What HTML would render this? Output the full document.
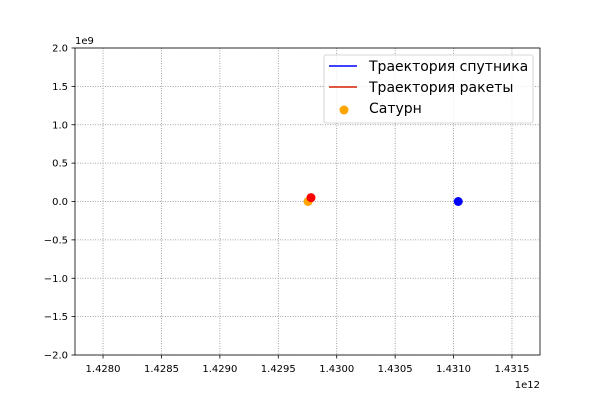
<!DOCTYPE html>
<html><head><meta charset="utf-8"><style>
body{margin:0;background:#fff;}
svg{display:block;font-family:"DejaVu Sans","Liberation Sans",sans-serif;}
</style></head><body>
<svg id="c" width="600" height="400"></svg>
<script>
const xTicks=[1.4280,1.4285,1.4290,1.4295,1.4300,1.4305,1.4310,1.4315];
const xTickLabels=["1.4280","1.4285","1.4290","1.4295","1.4300","1.4305","1.4310","1.4315"];
const yTicks=[-2.0,-1.5,-1.0,-0.5,0.0,0.5,1.0,1.5,2.0];
const yTickLabels=["−2.0","−1.5","−1.0","−0.5","0.0","0.5","1.0","1.5","2.0"];
const satelliteX=[1.43104];const satelliteY=[0.0];
const rocketX=[1.42978];const rocketY=[0.05];
const saturnX=[1.429755];const saturnY=[0.0];
const xMin=1.42776,xMax=1.43174,yMin=-2,yMax=2;
const L=75,R=540,T=48,B=355;
const sx=v=>L+(v-xMin)/(xMax-xMin)*(R-L);
const sy=v=>B-(v-yMin)/(yMax-yMin)*(B-T);
const svg=document.getElementById('c');const NS='http://www.w3.org/2000/svg';
function mk(t,a,p){const e=document.createElementNS(NS,t);for(const k in a)e.setAttribute(k,a[k]);(p||svg).appendChild(e);return e;}
xTicks.forEach((v,i)=>{const x=sx(v);
const g=mk('line',{x1:x,x2:x,y1:T,y2:B,stroke:'#8a8a8a','stroke-width':0.8,'stroke-dasharray':'1,1.5'});

mk('line',{x1:x,x2:x,y1:B,y2:B+3.5,stroke:'#000','stroke-width':0.8});
const t=mk('text',{x:x,y:B+17,'text-anchor':'middle','font-size':10});t.textContent=xTickLabels[i];
});
yTicks.forEach((v,i)=>{const y=sy(v);
const g=mk('line',{x1:L,x2:R,y1:y,y2:y,stroke:'#8a8a8a','stroke-width':0.8,'stroke-dasharray':'1,1.5'});

mk('line',{x1:L-3.5,x2:L,y1:y,y2:y,stroke:'#000','stroke-width':0.8});
const t=mk('text',{x:L-7,y:y+3.5,'text-anchor':'end','font-size':10});t.textContent=yTickLabels[i];
});
const fr=mk('rect',{x:L,y:T,width:R-L,height:B-T,fill:'none',stroke:'#000','stroke-width':0.8});

const oy=mk('text',{x:L,y:T-4,'font-size':10});oy.textContent='1e9';

const ox=mk('text',{x:R,y:B+33,'text-anchor':'end','font-size':10});ox.textContent='1e12';

saturnX.forEach((v,i)=>{const c=mk('circle',{cx:sx(v),cy:sy(saturnY[i]),r:4.5,fill:'orange'});
});
satelliteX.forEach((v,i)=>{const c=mk('circle',{cx:sx(v),cy:sy(satelliteY[i]),r:4.5,fill:'blue'});
});
rocketX.forEach((v,i)=>{const c=mk('circle',{cx:sx(v),cy:sy(rocketY[i]),r:4.5,fill:'red'});
});
const lg=mk('g',{});
mk('rect',{x:324,y:55,width:209,height:68,rx:2,fill:'#fff','fill-opacity':0.8,stroke:'#ccc','stroke-width':0.8},lg);
mk('line',{x1:329,x2:357,y1:66,y2:66,stroke:'blue','stroke-width':1.5},lg);
mk('line',{x1:329,x2:357,y1:87,y2:87,stroke:'#d62000','stroke-width':1.5},lg);
mk('circle',{cx:344,cy:110,r:4.5,fill:'orange'},lg);
[['Траектория спутника',71],['Траектория ракеты',92],['Сатурн',113]].forEach(([s,y])=>{
const t=mk('text',{x:369,y:y,'font-size':14},lg);t.textContent=s;
});
</script>
</body></html>
